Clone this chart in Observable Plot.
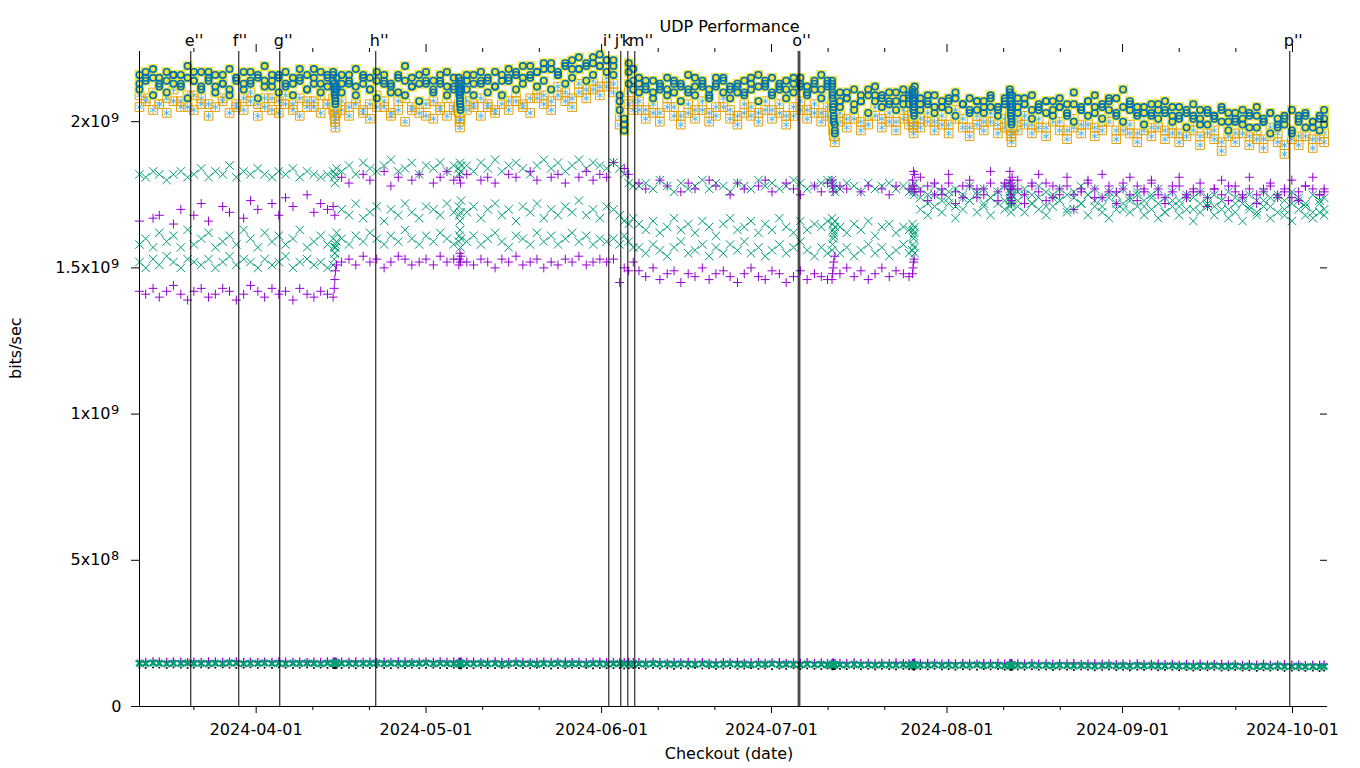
<!DOCTYPE html>
<html>
<head>
<meta charset="utf-8">
<script src="https://cdn.jsdelivr.net/npm/d3@7"></script>
<script src="https://cdn.jsdelivr.net/npm/@observablehq/plot@0.6"></script>
<style>
  html, body { margin: 0; padding: 0; background: #fff; }
  #chart svg { display: block; }
</style>
</head>
<body>
<div id="chart"></div>
<script>
// ---- data ---------------------------------------------------------------
// checkout times, in days after 2024-03-11T07:00Z
const baseDate = "2024-03-11T07:00:00Z";
const days = [
  0.1, 1.2, 2.5, 3.6, 4.9, 6.1, 7.4, 8.6, 9.7, 11.0, 12.3, 13.5, 14.8, 16.0, 17.2, 18.5, 19.7, 21.0, 22.2, 23.5, 24.7, 25.9, 27.2, 28.4, 29.7, 30.9, 32.1, 33.3,
  34.3, 34.5, 34.6, 34.7, 34.9,
  35.8, 37.1, 38.3, 39.6, 40.8, 42.0, 43.3, 44.5, 45.8, 47.0, 48.2, 49.5, 50.7, 52.0, 53.2, 54.4, 55.6,
  56.5, 56.6, 56.7, 56.8, 56.9,
  57.9, 59.1, 60.4, 61.6, 62.9, 64.1, 65.3, 66.6, 67.8, 69.1, 70.3, 71.5, 72.8, 74.0, 75.3, 76.5, 77.7, 79.0, 80.2, 81.4, 82.6,
  83.8, 84.9, 85.7, 86.5, 87.3,
  88.3, 89.5, 90.8, 92.0, 93.3, 94.5, 95.7, 97.0, 98.2, 99.5, 100.7, 101.9, 103.2, 104.4, 105.7, 106.9, 108.1, 109.4, 110.6, 111.8, 113.1, 114.3, 115.6, 116.8, 118.0, 119.3, 120.5, 121.6,
  122.4, 122.5, 122.6, 122.7, 122.9,
  123.8, 125.0, 126.3, 127.5, 128.8, 130.0, 131.2, 132.5, 133.7, 135.0, 136.0,
  136.6, 136.7, 136.8, 136.9, 137.0,
  138.0, 139.3, 140.5, 141.8, 143.0, 144.2, 145.5, 146.7, 148.0, 149.2, 150.4, 151.7, 152.9,
  153.8, 153.9, 154.0, 154.1, 154.2,
  155.2, 156.4, 157.7, 158.9, 160.2, 161.4, 162.6, 163.9, 165.1, 166.4, 167.6, 168.8, 170.1, 171.3, 172.6, 173.8, 175.0, 176.3, 177.5, 178.8, 180.0, 181.2, 182.5, 183.7, 185.0, 186.2, 187.4, 188.7, 189.9, 191.2, 192.4, 193.6, 194.9, 196.1, 197.4, 198.6, 199.8, 201.1, 202.3, 203.6, 204.8, 206.0, 207.3, 208.5, 209.3
];

// upper group, units of 1e7 bits/sec
const upperA = [ // yellow filled square + blue circle
  216, 214, 218, 215, 217, 213, 216, 219, 214, 217, 215, 212, 216, 218, 214, 213, 217, 215, 219, 214, 216, 212, 215, 218, 216, 213, 217, 215,
  217, 213, 210, 208, 215,
  216, 214, 218, 213, 215, 217, 214, 212, 216, 219, 215, 213, 217, 214, 216, 212, 215,
  215, 211, 208, 205, 213,
  214, 216, 213, 215, 217, 214, 218, 216, 215, 219, 217, 218, 220, 216, 219, 221, 218, 220, 222, 219, 221,
  221, 204, 197, 217, 214,
  213, 211, 214, 212, 215, 210, 213, 216, 212, 214, 211, 213, 215, 212, 210, 214, 213, 216, 212, 215, 211, 214, 213, 215, 212, 214, 216, 213,
  214, 210, 206, 202, 199,
  210, 208, 211, 207, 209, 212, 208, 210, 207, 211, 209,
  211, 208, 205, 203, 210,
  208, 206, 209, 205, 207, 210, 206, 208, 204, 207, 209, 205, 207,
  211, 207, 204, 201, 209,
  208, 206, 209, 205, 207, 204, 208, 206, 210, 205, 207, 209, 206, 204, 208, 211, 207, 205, 203, 206, 204, 207, 202, 205, 203, 206, 201, 204, 202, 205, 203, 200, 204, 202, 205, 201, 203, 199, 202, 204, 201, 203, 200, 202, 204
];
const upperB = [ // yellow filled square + blue circle (second run)
  213, 217, 215, 212, 214, 216, 213, 215, 217, 212, 214, 216, 213, 211, 215, 217, 213, 216, 214, 212, 215, 217, 213, 214, 211, 215, 213, 216,
  214, 211, 209, 206, 212,
  213, 216, 212, 215, 211, 214, 216, 213, 210, 214, 212, 216, 213, 211, 214, 217, 212,
  212, 209, 206, 210, 214,
  216, 213, 217, 214, 212, 216, 214, 217, 219, 215, 217, 220, 218, 216, 220, 218, 222, 219, 220, 223, 221,
  219, 209, 201, 220, 211,
  215, 212, 210, 213, 211, 214, 212, 210, 215, 213, 209, 212, 214, 211, 213, 210, 215, 212, 214, 210, 213, 211, 215, 212, 210, 213, 211, 214,
  212, 208, 204, 200, 196,
  207, 210, 206, 209, 211, 207, 209, 206, 210, 208, 206,
  209, 206, 204, 207, 212,
  206, 209, 205, 207, 204, 208, 206, 203, 207, 205, 208, 204, 206,
  209, 205, 202, 199, 206,
  205, 208, 204, 206, 203, 207, 205, 202, 206, 204, 207, 203, 205, 208, 202, 205, 206, 203, 205, 202, 206, 203, 205, 201, 204, 202, 199, 203, 201, 204, 200, 203, 201, 198, 202, 200, 203, 198, 201, 196, 200, 202, 198, 201, 199
];
const upperD = [ // yellow filled square + blue circle (third run)
  211, 215, 209, 213, 210, 216, 212, 208, 214, 211, 217, 210, 213, 209, 215, 211, 214, 208, 212, 216, 210, 213, 209, 215, 211, 218, 210, 212,
  216, 212, 209, 207, 211,
  210, 213, 209, 216, 211, 208, 213, 210, 215, 209, 212, 207, 214, 210, 213, 209, 211,
  213, 210, 207, 204, 211,
  211, 209, 214, 210, 212, 209, 215, 211, 213, 216, 212, 214, 211, 217, 213, 215, 218, 214, 216, 219, 217,
  216, 207, 199, 213, 218,
  210, 214, 208, 211, 209, 213, 207, 211, 209, 212, 208, 215, 210, 208, 212, 209, 211, 207, 213, 209, 212, 208, 210, 213, 209, 211, 208, 212,
  213, 209, 205, 201, 197,
  205, 208, 204, 207, 203, 209, 205, 207, 204, 206, 208,
  210, 207, 204, 202, 208,
  204, 207, 203, 205, 208, 202, 206, 204, 207, 203, 205, 202, 208,
  210, 206, 203, 200, 205,
  203, 206, 201, 204, 207, 202, 205, 203, 200, 204, 202, 205, 201, 207, 203, 200, 204, 202, 199, 203, 201, 204, 200, 202, 198, 201, 204, 199, 202, 200, 197, 201, 199, 203, 198, 200, 196, 201, 199, 197, 202, 198, 200, 197, 201
];
const upperC = [ // orange open square + sky-blue asterisk
  209, 207, 210, 206, 208, 211, 207, 205, 209, 208, 206, 210, 207, 209, 205, 208, 210, 206, 208, 204, 207, 209, 206, 208, 205, 207, 209, 206,
  208, 205, 203, 201, 206,
  207, 205, 208, 204, 206, 209, 205, 203, 207, 208, 204, 206, 202, 207, 205, 208, 204,
  206, 203, 201, 204, 208,
  207, 205, 208, 206, 204, 209, 207, 210, 206, 208, 211, 209, 207, 212, 210, 208, 213, 211, 214, 212, 215,
  213, 202, 199, 210, 207,
  207, 204, 206, 203, 208, 205, 202, 206, 204, 207, 203, 205, 208, 204, 202, 206, 205, 203, 207, 204, 206, 202, 205, 207, 204, 206, 203, 205,
  206, 203, 200, 197, 195,
  203, 201, 204, 200, 202, 205, 201, 203, 200, 204, 202,
  204, 201, 199, 203, 206,
  201, 203, 200, 202, 199, 204, 201, 198, 202, 200, 203, 199, 201,
  203, 200, 198, 196, 201,
  200, 202, 199, 201, 198, 203, 200, 197, 201, 199, 202, 198, 200, 203, 197, 200, 199, 196, 200, 198, 201, 197, 199, 196, 198, 200, 195, 199, 197, 193, 198, 196, 199, 195, 197, 194, 198, 196, 192, 197, 195, 198, 194, 197, 196
];
const upperE = [ // orange open square + sky-blue asterisk (second run)
  205, 208, 204, 206, 203, 207, 205, 209, 204, 206, 202, 205, 208, 203, 206, 204, 207, 202, 205, 208, 203, 206, 204, 202, 207, 205, 203, 206,
  204, 202, 200, 198, 203,
  204, 202, 206, 203, 201, 205, 207, 202, 204, 200, 205, 203, 206, 201, 204, 202, 205,
  203, 200, 198, 201, 205,
  204, 206, 202, 205, 203, 206, 204, 207, 205, 203, 208, 206, 204, 209, 207, 205, 210, 208, 211, 209, 212,
  210, 199, 197, 206, 204,
  204, 201, 203, 200, 205, 202, 199, 203, 201, 204, 200, 202, 205, 201, 199, 203, 202, 200, 204, 201, 203, 199, 202, 204, 201, 203, 200, 202,
  203, 200, 197, 195, 193,
  200, 198, 201, 197, 199, 202, 198, 200, 197, 201, 199,
  201, 198, 196, 200, 203,
  198, 200, 197, 199, 196, 201, 198, 195, 199, 197, 200, 196, 198,
  200, 197, 195, 193, 198,
  197, 199, 196, 198, 195, 200, 197, 194, 198, 196, 199, 195, 197, 200, 194, 197, 196, 193, 197, 195, 198, 194, 196, 193, 195, 197, 192, 196, 194, 190, 195, 193, 196, 192, 194, 191, 195, 193, 189, 194, 192, 195, 191, 194, 193
];

// middle group, units of 1e7 bits/sec
const purpleMain = [
  142, 141, 143, 140, 142, 144, 141, 139, 142, 143, 140, 141, 143, 142, 139, 141, 144, 142, 140, 143, 141, 142, 139, 143, 141, 140, 142, 141,
  140, 143, 146, 149, 151,
  152, 153, 151, 154, 152, 153, 150, 152, 154, 153, 151, 152, 153, 151, 154, 152, 153,
  151, 153, 155, 152, 154,
  152, 151, 153, 152, 150, 153, 152, 154, 151, 152, 153, 150, 152, 151, 153, 152, 154, 151, 152, 153, 152,
  153, 145, 150, 149, 152,
  149, 147, 150, 146, 148, 149, 145, 148, 147, 150, 146, 148, 149, 147, 145, 148, 150, 147, 146, 149, 148, 145, 147, 149, 146, 148, 147, 146,
  146, 148, 150, 152, 154,
  148, 150, 147, 149, 146, 148, 150, 147, 149, 148, 147,
  148, 150, 152, 153, 177,
  176, 178, 175, 177, 179, 176, 174, 178, 177, 175, 179, 176, 178,
  180, 177, 175, 173, 178,
  177, 175, 178, 176, 179, 174, 177, 178, 175, 176, 179, 177, 174, 178, 176, 177, 175, 178, 176, 179, 177, 174, 176, 178, 175, 177, 176, 174, 177, 175, 178, 176, 174, 177, 175, 176, 178, 175, 177, 174, 176, 178, 177, 175, 176
];
const purpleHigh = [
  166, null, 167, 168, null, 165, 170, null, 168, 172, 166, null, 171, 169, null, 167, 173, 170, null, 172, 168, 174, 171, null, 175, 169, 172, 170,
  171, null, 168, null, null,
  181, 179, null, 182, 180, null, 183, 178, 181, null, 180, 182, null, 179, 181, 183, 180,
  null, 181, null, 179, null,
  182, null, 180, 181, 179, null, 182, 181, null, 183, 180, null, 181, 182, 179, null, 181, 183, 180, 182, 181,
  186, null, 184, 182, null,
  179, 177, null, 180, 178, null, 176, 179, 177, null, 180, 178, null, 175, 179, 177, null, 178, 180, 176, null, 179, 177, 175, null, 178, 176, 179,
  180, 178, 176, null, null,
  178, 177, null, 176, 178, null, 177, 175, 178, null, 177,
  180, 178, 183, 176, 182,
  181, 173, 179, 175, 182, 172, 178, 180, 174, 177, 183, 173, 179,
  183, 179, 174, 172, 181,
  180, 172, 179, 182, 173, 178, 175, 181, 170, 177, 180, 174, 182, 176, 172, 179, 181, 173, 177, 180, 175, 172, 178, 181, 174, 176, 179, 171, 177, 180, 173, 178, 175, 181, 172, 177, 179, 174, 176, 180, 173, 178, 181, 175, 177
];
const greenHigh = [
  182, 181, 183, 182, 180, 182, 183, 181, 182, 184, 181, 183, 182, 185, 181, 183, 182, 184, 182, 181, 183, 182, 184, 181, 183, 182, 181, 182,
  183, 181, 179, 182, 184,
  183, 185, 182, 186, 184, 183, 185, 187, 183, 184, 186, 182, 185, 184, 186, 183, 185,
  184, 182, 186, 183, 185,
  185, 183, 186, 184, 187, 183, 185, 186, 184, 182, 185, 187, 184, 186, 183, 185, 187, 184, 186, 185, 184,
  186, 184, 182, 179, 178,
  178, 179, 177, 180, 178, 176, 179, 177, 178, 180, 177, 179, 178, 176, 179, 178, 177, 180, 178, 179, 177, 178, 180, 179, 177, 178, 179, 180,
  180, 179, 178, 177, 176,
  177, 179, 178, 176, 179, 177, 178, 179, 177, 178, 176,
  178, 177, 176, 175, 179,
  177, 175, 178, 176, 174, 177, 175, 178, 176, 177, 174, 176, 178,
  179, 177, 176, 175, 178,
  176, 177, 175, 178, 176, 174, 177, 175, 176, 178, 175, 177, 174, 176, 175, 177, 174, 176, 173, 175, 177, 174, 176, 173, 175, 174, 176, 172, 175, 173, 176, 174, 172, 175, 173, 176, 174, 175, 173, 176, 174, 172, 175, 173, 174
];
const greenMid = [
  158, 160, 157, 162, 159, 161, 157, 163, 158, 160, 162, 157, 159, 161, 158, 163, 160, 157, 162, 159, 161, 158, 160, 163, 157, 159, 161, 158,
  160, 157, 155, 158, 162,
  170, 168, 172, 167, 169, 171, 166, 170, 168, 172, 169, 167, 171, 170, 168, 172, 169,
  171, 168, 166, 169, 173,
  169, 171, 167, 170, 172, 168, 170, 166, 171, 169, 172, 167, 170, 168, 171, 169, 173, 168, 170, 167, 171,
  170, 168, 166, 165, 167,
  165, 163, 166, 162, 164, 167, 163, 165, 162, 166, 164, 161, 165, 167, 163, 164, 166, 162, 165, 163, 167, 164, 162, 166, 163, 165, 164, 166,
  167, 165, 163, 161, 166,
  164, 162, 165, 163, 166, 161, 164, 165, 162, 164, 163,
  165, 163, 161, 162, 164,
  174, 172, 175, 173, 176, 171, 174, 173, 175, 172, 174, 176, 173,
  176, 174, 172, 175, 177,
  173, 175, 172, 174, 171, 175, 173, 170, 174, 172, 175, 173, 171, 174, 172, 170, 173, 175, 171, 174, 172, 169, 173, 171, 174, 170, 172, 174, 171, 173, 170, 172, 174, 171, 169, 173, 171, 174, 170, 172, 173, 171, 169, 172, 170
];
const greenLow = [
  152, 150, 153, 151, 154, 152, 150, 153, 152, 151, 153, 150, 152, 154, 151, 153, 152, 150, 153, 151, 152, 154, 150, 152, 153, 151, 152, 150,
  151, 153, 155, 157, 159,
  160, 158, 161, 159, 162, 160, 158, 161, 159, 163, 160, 158, 161, 159, 162, 160, 158,
  159, 161, 163, 157, 160,
  159, 161, 158, 160, 162, 159, 157, 161, 160, 158, 162, 159, 161, 158, 160, 162, 159, 161, 158, 160, 159,
  160, 158, 161, 159, 157,
  157, 155, 158, 156, 154, 157, 159, 155, 156, 158, 154, 157, 155, 158, 156, 159, 155, 157, 154, 156, 158, 155, 157, 159, 156, 154, 157, 155,
  156, 158, 160, 162, 164,
  155, 157, 154, 156, 158, 155, 157, 154, 156, 158, 155,
  156, 158, 160, 157, 155,
  170, 168, 171, 169, 172, 167, 170, 173, 169, 171, 168, 172, 170,
  171, 173, 169, 175, 172,
  171, 169, 172, 170, 168, 171, 173, 169, 170, 172, 168, 171, 169, 167, 170, 172, 169, 171, 168, 170, 167, 169, 171, 168, 170, 166, 169, 171, 168, 170, 167, 169, 166, 170, 168, 171, 167, 169, 168, 166, 170, 168, 167, 169, 168
];

// lower group, units of 1e6 bits/sec
const lowPurple = [
  154, 153, 155, 154, 153, 155, 154, 152, 154, 153, 155, 154, 153, 154, 155, 153, 154, 152, 154, 153, 155, 154, 153, 154, 152, 154, 153, 155,
  153, 155, 152, 154, 153,
  154, 153, 155, 153, 154, 152, 154, 153, 155, 154, 152, 153, 154, 153, 155, 153, 154,
  153, 152, 154, 153, 155,
  153, 154, 152, 153, 155, 153, 152, 154, 153, 151, 153, 154, 152, 153, 154, 152, 153, 151, 153, 154, 152,
  153, 151, 152, 153, 152,
  152, 151, 153, 152, 150, 152, 151, 153, 151, 152, 150, 151, 152, 151, 153, 150, 151, 152, 150, 151, 152, 149, 151, 150, 152, 150, 151, 149,
  150, 148, 151, 149, 150,
  150, 149, 151, 149, 150, 148, 150, 149, 151, 149, 148,
  149, 150, 148, 149, 151,
  148, 150, 149, 147, 149, 148, 150, 148, 147, 149, 148, 150, 147,
  149, 147, 148, 150, 146,
  148, 147, 149, 147, 148, 146, 148, 147, 149, 146, 147, 148, 146, 147, 145, 147, 146, 148, 145, 146, 147, 145, 146, 144, 146, 145, 147, 144, 145, 146, 144, 145, 143, 145, 144, 146, 143, 144, 145, 143, 144, 142, 144, 143, 144
];
const lowGreen = [
  148, 147, 149, 148, 146, 148, 147, 149, 147, 148, 146, 148, 147, 149, 148, 146, 148, 147, 149, 147, 148, 146, 148, 147, 149, 147, 146, 148,
  147, 149, 146, 148, 150,
  147, 148, 146, 148, 147, 149, 146, 148, 147, 146, 148, 147, 149, 146, 148, 147, 146,
  148, 146, 147, 149, 145,
  147, 146, 148, 146, 147, 145, 147, 148, 146, 147, 145, 147, 146, 148, 145, 147, 146, 145, 147, 146, 145,
  146, 147, 145, 146, 144,
  146, 145, 147, 145, 146, 144, 146, 145, 144, 146, 145, 143, 145, 146, 144, 145, 143, 145, 144, 146, 143, 145, 144, 142, 145, 143, 144, 142,
  143, 145, 142, 141, 144,
  143, 142, 144, 142, 143, 141, 143, 142, 141, 143, 142,
  142, 143, 141, 140, 143,
  142, 141, 143, 141, 142, 140, 142, 141, 143, 140, 142, 141, 139,
  142, 140, 141, 139, 143,
  141, 140, 142, 140, 141, 139, 141, 140, 139, 141, 140, 138, 140, 141, 139, 140, 138, 140, 139, 141, 138, 139, 140, 138, 139, 137, 139, 138, 140, 137, 138, 139, 137, 138, 136, 138, 137, 139, 136, 137, 138, 136, 137, 135, 137
];
const lowBlack = [
  133, 132, 134, 133, 132, 134, 133, 132, 133, 134, 132, 133, 134, 133, 132, 133, 134, 132, 133, 132, 134, 133, 132, 133, 134, 132, 133, 132,
  132, 133, 131, 133, 132,
  132, 133, 131, 133, 132, 134, 132, 131, 133, 132, 133, 131, 132, 133, 132, 131, 133,
  132, 131, 133, 132, 130,
  132, 131, 133, 132, 131, 132, 133, 131, 132, 131, 133, 132, 130, 132, 131, 133, 131, 132, 130, 132, 131,
  131, 132, 130, 131, 132,
  131, 130, 132, 130, 131, 129, 131, 130, 132, 130, 131, 129, 130, 131, 129, 130, 131, 129, 130, 128, 130, 129, 131, 128, 130, 129, 128, 130,
  129, 127, 128, 130, 128,
  129, 128, 130, 128, 129, 127, 129, 128, 127, 129, 128,
  128, 129, 127, 126, 128,
  128, 127, 129, 127, 128, 126, 128, 127, 126, 128, 127, 129, 126,
  127, 126, 128, 125, 127,
  127, 126, 128, 126, 127, 125, 127, 126, 125, 127, 126, 124, 126, 127, 125, 126, 124, 126, 125, 127, 124, 125, 126, 124, 125, 123, 125, 124, 126, 123, 124, 125, 123, 124, 122, 124, 123, 125, 122, 123, 124, 122, 123, 121, 123
];

// event markers (days after baseDate) and their labels
const markerDays = [9.16, 17.64, 24.88, 41.83, 82.98, 85.10, 86.34, 87.57, 116.43, 116.71, 203.24];
const markerLabels = ["e''", "f''", "g''", "h''", "i'", "j'", "k", "m''", "o''", "", "p''"];

// axes
const xDomainDays = [0.105, 209.72];
const monthTicks = ["2024-04-01", "2024-05-01", "2024-06-01", "2024-07-01", "2024-08-01", "2024-09-01", "2024-10-01"];
const minorTicks = ["2024-03-21", "2024-04-11", "2024-04-21", "2024-05-11", "2024-05-21", "2024-06-11", "2024-06-21",
  "2024-07-11", "2024-07-21", "2024-08-11", "2024-08-21", "2024-09-11", "2024-09-21"];
const yTicks = [0, 5e8, 1e9, 1.5e9, 2e9];
const yTickBase = ["0", "5x10", "1x10", "1.5x10", "2x10"];
const yTickExp = ["", "8", "9", "9", "9"];
const yMax = 2.24e9;

// ---- chart --------------------------------------------------------------
const base = Date.parse(baseDate);
const toDate = d => new Date(base + d * 864e5);
const pts = (vals, unit) => days
  .map((d, i) => ({x: toDate(d), y: vals[i] == null ? null : vals[i] * unit}))
  .filter((p, i) => i < vals.length && vals[i] != null);
const mTicks = monthTicks.map(s => new Date(s + "T00:00:00Z"));
const nTicks = minorTicks.map(s => new Date(s + "T00:00:00Z"));
const markers = markerDays.map((d, i) => ({x: toDate(d), label: markerLabels[i]}));
const yLab = yTicks.map((v, i) => ({y: v, base: yTickBase[i], exp: yTickExp[i]}));
const yLabPow = yLab.filter(d => d.exp !== "");
const yLabPlain = yLab.filter(d => d.exp === "");

const PURPLE = "#9400d3", GREEN = "#009e73", SKY = "#56b4e9", ORANGE = "#e69f00", YELLOW = "#f0e442", BLUE = "#0072b2";

const yellowDot = vals => Plot.dot(pts(vals, 1e7), {x: "x", y: "y", symbol: "square", fill: YELLOW, r: 5.5});
const blueDot = vals => Plot.dot(pts(vals, 1e7), {x: "x", y: "y", symbol: "circle", stroke: BLUE, fill: "none", strokeWidth: 1.6, r: 3.2});
const skyDot = vals => Plot.dot(pts(vals, 1e7), {x: "x", y: "y", symbol: "asterisk", stroke: SKY, strokeWidth: 1, r: 3.3});
const orangeDot = vals => Plot.dot(pts(vals, 1e7), {x: "x", y: "y", symbol: "square2", stroke: ORANGE, fill: "none", strokeWidth: 1, r: 5.5});
const greenDot = vals => Plot.dot(pts(vals, 1e7), {x: "x", y: "y", symbol: "times", stroke: GREEN, strokeWidth: 1, r: 3.9});
const purpleDot = vals => Plot.dot(pts(vals, 1e7), {x: "x", y: "y", symbol: "plus", stroke: PURPLE, strokeWidth: 1, r: 3});

const chart = Plot.plot({
  width: 1360,
  height: 768,
  marginLeft: 139,
  marginRight: 34,
  marginTop: 51,
  marginBottom: 62,
  style: {fontFamily: "'DejaVu Sans', sans-serif", fontSize: "16px", color: "#000", background: "#fff"},
  x: {type: "utc", domain: xDomainDays.map(toDate)},
  y: {domain: [0, yMax]},
  marks: [
    // lower group
    Plot.dot(pts(lowBlack, 1e6), {x: "x", y: "y", symbol: "square", fill: "#000", r: 1}),
    Plot.dot(pts(lowPurple, 1e6), {x: "x", y: "y", symbol: "plus", stroke: PURPLE, strokeWidth: 1.3, r: 2.7}),
    Plot.dot(pts(lowGreen, 1e6), {x: "x", y: "y", symbol: "times", stroke: GREEN, strokeWidth: 2.4, r: 3}),
    // middle group
    greenDot(greenLow), greenDot(greenMid), greenDot(greenHigh),
    purpleDot(purpleMain), purpleDot(purpleHigh),
    // upper group
    skyDot(upperE), skyDot(upperC),
    orangeDot(upperE), orangeDot(upperC),
    yellowDot(upperD), yellowDot(upperB), yellowDot(upperA),
    blueDot(upperD), blueDot(upperB), blueDot(upperA),
    // event markers
    Plot.ruleX(markers, {x: "x", stroke: "#000", strokeWidth: 1}),
    Plot.text(markers.filter(m => m.label !== ""), {x: "x", text: "label", frameAnchor: "top", dy: -5.5, dx: -6, textAnchor: "start", lineAnchor: "bottom", fill: "#000"}),
    // borders
    Plot.ruleY([0], {stroke: "#000"}),
    Plot.ruleX([toDate(xDomainDays[0])], {stroke: "#000"}),
    // axes
    Plot.axisX(mTicks, {anchor: "bottom", tickSize: 7, tickPadding: 10, tickFormat: d3.utcFormat("%Y-%m-%d"), label: null}),
    Plot.axisX(nTicks, {anchor: "bottom", tickSize: 4, fill: "none", label: null}),
    Plot.axisX(mTicks, {anchor: "top", tickSize: 8, fill: "none", label: null}),
    Plot.axisX(nTicks, {anchor: "top", tickSize: 4, fill: "none", label: null}),
    Plot.axisY(yTicks, {anchor: "left", tickSize: 8, fill: "none", label: null}),
    Plot.axisY(yTicks, {anchor: "right", tickSize: 7, dx: -7, fill: "none", label: null}),
    // y tick labels (mantissa x 10 with superscript exponent)
    Plot.text(yLabPow, {y: "y", text: "base", frameAnchor: "left", dx: -29, textAnchor: "end", lineAnchor: "middle", fill: "#000"}),
    Plot.text(yLabPow, {y: "y", text: "exp", frameAnchor: "left", dx: -28.5, dy: -4, textAnchor: "start", lineAnchor: "middle", fontSize: 13, fill: "#000"}),
    Plot.text(yLabPlain, {y: "y", text: "base", frameAnchor: "left", dx: -18, textAnchor: "end", lineAnchor: "middle", fill: "#000"}),
    // titles
    Plot.text(["UDP Performance"], {text: d => d, frameAnchor: "top", dy: -20, dx: -3.5, lineAnchor: "bottom", fill: "#000"}),
    Plot.text(["Checkout (date)"], {text: d => d, frameAnchor: "bottom", dy: 52, dx: -4, lineAnchor: "bottom", fill: "#000"}),
    Plot.text(["bits/sec"], {text: d => d, frameAnchor: "left", dx: -124, rotate: -90, lineAnchor: "middle", fill: "#000"})
  ]
});
document.getElementById("chart").appendChild(chart);
</script>
</body>
</html>
